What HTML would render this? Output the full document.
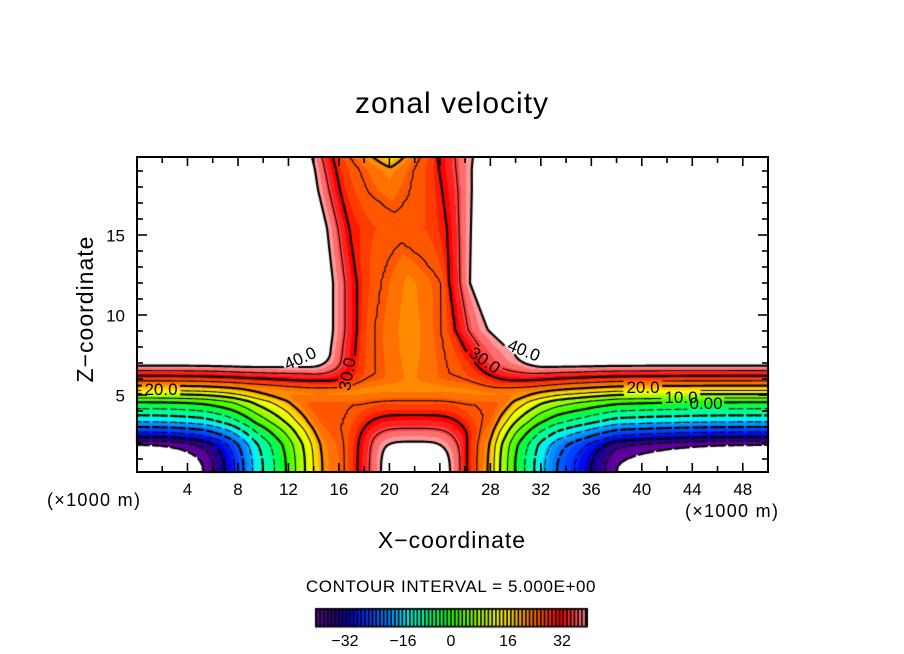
<!DOCTYPE html>
<html><head><meta charset="utf-8"><title>zonal velocity</title>
<style>
html,body{margin:0;padding:0;background:#fff;}
body{width:904px;height:654px;position:relative;overflow:hidden;}
#c{position:absolute;left:0;top:0;}
#s{position:absolute;left:0;top:0;}
text{font-family:"Liberation Sans",sans-serif;fill:#000;}
</style></head><body>
<canvas id="c" width="904" height="654"></canvas>
<svg id="s" width="904" height="654" xmlns="http://www.w3.org/2000/svg">
<g id="ticks" stroke="#000" stroke-width="1.6"></g>
<rect x="137" y="157" width="631" height="315" fill="none" stroke="#000" stroke-width="2"/>
<text x="452" y="113" font-size="30" text-anchor="middle" letter-spacing="1">zonal velocity</text>
<text x="452" y="548" font-size="23" text-anchor="middle" letter-spacing="1">X−coordinate</text>
<text transform="translate(93,309) rotate(-90)" font-size="23" text-anchor="middle" letter-spacing="1">Z−coordinate</text>
<g font-size="17" text-anchor="middle">
<text x="187.5" y="495">4</text>
<text x="238" y="495">8</text>
<text x="288.4" y="495">12</text>
<text x="338.9" y="495">16</text>
<text x="389.4" y="495">20</text>
<text x="439.9" y="495">24</text>
<text x="490.4" y="495">28</text>
<text x="540.8" y="495">32</text>
<text x="591.3" y="495">36</text>
<text x="641.8" y="495">40</text>
<text x="692.3" y="495">44</text>
<text x="742.8" y="495">48</text>
</g>
<g font-size="17" text-anchor="end">
<text x="125" y="401.5">5</text>
<text x="125" y="321.5">10</text>
<text x="125" y="241.5">15</text>
</g>
<text x="47" y="506" font-size="18" letter-spacing="1.3">(×1000 m)</text>
<text x="685" y="517" font-size="18" letter-spacing="1.3">(×1000 m)</text>
<text x="451" y="592" font-size="17" text-anchor="middle" letter-spacing="0.6">CONTOUR INTERVAL = 5.000E+00</text>
<g font-size="16" text-anchor="middle">
<text x="345" y="646">−32</text>
<text x="403" y="646">−16</text>
<text x="451" y="646">0</text>
<text x="508" y="646">16</text>
<text x="562" y="646">32</text>
</g>
<g font-size="17" text-anchor="middle">
<text transform="translate(300,358) rotate(-24)" dy="6">40.0</text>
<text transform="translate(347,374) rotate(-80)" dy="6">30.0</text>
<text transform="translate(161,389)" dy="6">20.0</text>
<text transform="translate(485,360) rotate(35)" dy="6">30.0</text>
<text transform="translate(524,350) rotate(22)" dy="6">40.0</text>
<text transform="translate(643,387)" dy="6">20.0</text>
<text transform="translate(681,397)" dy="6">10.0</text>
<text transform="translate(706,403)" dy="6">0.00</text>
</g>
</svg>
<script>
(function(){
var tg=document.getElementById('ticks'),ns='http://www.w3.org/2000/svg';
function ln(x1,y1,x2,y2){var l=document.createElementNS(ns,'line');l.setAttribute('x1',x1);l.setAttribute('y1',y1);l.setAttribute('x2',x2);l.setAttribute('y2',y2);tg.appendChild(l);}
for(var k=1;k<=24;k++){var x=137+k*25.24,len=(k%2==0)?9:6;ln(x,472,x,472-len);ln(x,157,x,157+len);}
for(var n=1;n<=19;n++){var y=475-16*n,l2=(n%5==0)?10:6;ln(137,y,137+l2,y);ln(768,y,768-l2,y);}

function pw(t,x){var n=t.length,s;
 if(x<=t[0][0]){s=(t[1][1]-t[0][1])/(t[1][0]-t[0][0]);return t[0][1]+(x-t[0][0])*s;}
 for(var i=1;i<n;i++){if(x<=t[i][0]){var u=(x-t[i-1][0])/(t[i][0]-t[i-1][0]);return t[i-1][1]+u*(t[i][1]-t[i-1][1]);}}
 s=(t[n-1][1]-t[n-2][1])/(t[n-1][0]-t[n-2][0]);return t[n-1][1]+(x-t[n-1][0])*s;}
var FxL=[[0,0],[67,20],[95,33],[120,47],[150,60],[169,70],[186,80],[214,90],[242,100],[400,180]];
var FxR=[[0,0],[151,20],[163,25],[183,32],[211,40],[228,47],[253,60],[268,70],[280,80],[300,90],[310,100],[500,200]];
var Bz=[[0,0],[27,20],[35,30],[50,45],[70,60],[78,70],[85,80],[94,90],[105,100],[200,200]];
var P=2.5;
function sup(a,b){a=Math.max(a,0);b=Math.max(b,0);return Math.pow(Math.pow(a,P)+Math.pow(b,P),1/P);}
function V(c){return [45,40,35,30,c[0],c[1],c[2],30,35,40,45];}
var rows=[
 {y:157,x:[302,312,322,333,350,391,420,437,455,473,483],v:V([25,16,25])},
 {y:170,x:[305,315,325,336,360,390,413,439,456,472,482],v:V([25,21,25])},
 {y:190,x:[308,318,329,340,368,389,409,442,458,472,482],v:V([25,23,25])},
 {y:228,x:[317,327,338,349,375,398,425,447,459,471,481],v:V([27.5,26.5,27.5])},
 {y:283,x:[323,333,345,357,382,410,440,449,460,470,480],v:V([25,21.2,25])},
 {y:330,x:[323,333,345,357,375,410,440,455,468,488,500],v:V([25,20.4,25])},
 {y:355,x:[320,330,342,355,376,410,444,468,485,515,530],v:V([25,20.8,25])},
 {y:380,x:[316,326,338,350,376,410,450,490,505,525,540],v:V([25,21.5,25])},
 {y:480,x:[316,326,338,350,376,410,450,490,505,525,540],v:V([25,21.5,25])}];
function ccol(px,py){
 var r0,r1,t=0;
 if(py<=rows[0].y){r0=r1=rows[0];}
 else if(py>=rows[rows.length-1].y){r0=r1=rows[rows.length-1];}
 else{for(var i=1;i<rows.length;i++){if(py<=rows[i].y){r0=rows[i-1];r1=rows[i];t=(py-r0.y)/(r1.y-r0.y);break;}}}
 var xs=[],vs=[];
 for(var k=0;k<11;k++){xs[k]=r0.x[k]+(r1.x[k]-r0.x[k])*t;vs[k]=r0.v[k]+(r1.v[k]-r0.v[k])*t;}
 var v;
 if(px<=xs[0])v=vs[0]+(xs[0]-px)*0.5;
 else if(px>=xs[10])v=vs[10]+(px-xs[10])*0.5;
 else{for(k=1;k<11;k++){if(px<=xs[k]){var u=(px-xs[k-1])/(xs[k]-xs[k-1]);v=vs[k-1]+u*(vs[k]-vs[k-1]);break;}}}
 if(v>25&&v<30){v=25+5*Math.pow((v-25)/5,2.2);}
 return v;}
function smin(a,b,k){var h=Math.max(k-Math.abs(a-b),0)/k;return Math.min(a,b)-h*h*k*0.25;}
function smax(a,b,k){return -smin(-a,-b,k);}
function field(px,py){
 var h=472-py;
 var b=pw(Bz,h);
 var vL=sup(pw(FxL,px-136),b)-60;
 var vR=sup(pw(FxR,768-px),b)-60;
 var lobes=Math.min(vL,vR);
 var sl=1-0.28*Math.exp(-Math.pow((px-320)/70,2))-0.28*Math.exp(-Math.pow((px-500)/80,2));
 var eh=40+(h-105)*sl;
 var up=smin(eh,ccol(px,py),10);
 var dx=Math.abs(px-414)/58,dy=Math.abs(py-487)/72;
 var tt=Math.pow(Math.pow(dx,4)+Math.pow(dy,4),0.25);
 var D=30+27*(1-tt);
 var M=h<=67?25:25-(h-67)*0.3;
 var X=smax(smax(up,D,4),M,3);
 return smin(lobes,X,6);}

var stops=[[-40,100,0,160],[-37,90,0,150],[-34,50,0,130],[-31,20,0,150],[-28,0,0,220],[-25,0,40,255],[-21,0,90,255],[-18,0,130,255],[-15,0,185,255],[-13,0,240,255],[-11,0,255,200],[-7,0,255,150],[-3,0,255,80],[0,40,255,0],[4,100,255,0],[8,170,255,0],[12,230,255,0],[14,255,255,0],[16.5,255,220,0],[19,255,180,0],[21,255,140,0],[24,255,100,0],[27,255,60,0],[29,255,25,0],[31,255,0,0],[33.5,255,40,40],[36,255,90,90],[38.5,255,140,140],[40,255,175,175]];
function cmap(v){
 if(v<=stops[0][0])return [stops[0][1],stops[0][2],stops[0][3]];
 for(var i=1;i<stops.length;i++){if(v<=stops[i][0]){var a=stops[i-1],b=stops[i],t=(v-a[0])/(b[0]-a[0]);return [a[1]+t*(b[1]-a[1]),a[2]+t*(b[2]-a[2]),a[3]+t*(b[3]-a[3])];}}
 var s=stops[stops.length-1];return [s[1],s[2],s[3]];}

var cv=document.getElementById('c'),ctx=cv.getContext('2d');
ctx.fillStyle='#fff';ctx.fillRect(0,0,904,654);
var X0=136,Y0=157,W=633,H=316;
var img=ctx.createImageData(W,H),d=img.data;
for(var j=0;j<H;j++){for(var i=0;i<W;i++){
 var v=field(X0+i+0.5,Y0+j+0.5),p=(j*W+i)*4,c;
 if(v>40||v<-40){c=[255,255,255];}
 else{var q=(Math.floor(v/2)+0.5)*2;c=cmap(q);}
 d[p]=c[0];d[p+1]=c[1];d[p+2]=c[2];d[p+3]=255;}}
ctx.putImageData(img,X0,Y0);

var labels=[[300,358,-24],[347,374,-80],[161,389,0],[485,360,35],[524,350,22],[643,387,0],[681,397,0],[706,403,0]];
function inLabel(x,y){
 for(var i=0;i<labels.length;i++){var L=labels[i],a=-L[2]*Math.PI/180,dx=x-L[0],dy=y-L[1];
  var u=dx*Math.cos(a)-dy*Math.sin(a),w=dx*Math.sin(a)+dy*Math.cos(a);
  if(Math.abs(u)<20&&Math.abs(w)<8)return true;}
 return false;}
var g=2,NX=316,NY=158,G=[];
for(var jj=0;jj<=NY;jj++){G[jj]=[];for(var ii=0;ii<=NX;ii++){G[jj][ii]=field(137+g*ii,157+g*jj);}}
var levels=[];for(var Lv=-40;Lv<=40;Lv+=5)levels.push(Lv);
var tab={1:[[3,2]],2:[[2,1]],3:[[3,1]],4:[[0,1]],5:[[0,3],[2,1]],6:[[0,2]],7:[[0,3]],8:[[0,3]],9:[[0,2]],10:[[0,1],[3,2]],11:[[0,1]],12:[[3,1]],13:[[2,1]],14:[[3,2]]};
var paths={};
levels.forEach(function(L){paths[L]=[];});
for(jj=0;jj<NY;jj++){for(ii=0;ii<NX;ii++){
 var v0=G[jj][ii],v1=G[jj][ii+1],v2=G[jj+1][ii+1],v3=G[jj+1][ii];
 var x0=137+g*ii,y0=157+g*jj;
 for(var li=0;li<levels.length;li++){var L=levels[li];
  var idx=(v0>L?8:0)|(v1>L?4:0)|(v2>L?2:0)|(v3>L?1:0);
  if(idx===0||idx===15)continue;
  var segs=tab[idx];
  for(var s=0;s<segs.length;s++){
   var pts=segs[s].map(function(e){var t;
    if(e===0){t=(L-v0)/(v1-v0);return [x0+g*t,y0];}
    if(e===1){t=(L-v1)/(v2-v1);return [x0+g,y0+g*t];}
    if(e===2){t=(L-v3)/(v2-v3);return [x0+g*t,y0+g];}
    t=(L-v0)/(v3-v0);return [x0,y0+g*t];});
   paths[L].push(pts);}}}}
ctx.save();ctx.beginPath();ctx.rect(137,157,631,315);ctx.clip();
ctx.strokeStyle='#000';ctx.lineCap='round';
levels.forEach(function(L){
 var thick=(L%10===0),neg=L<0;
 ctx.lineWidth=thick?2.2:1.1;
 ctx.beginPath();
 paths[L].forEach(function(p){
  var mx=(p[0][0]+p[1][0])/2,my=(p[0][1]+p[1][1])/2;
  if(inLabel(mx,my))return;
  if(neg){var par=Math.abs(p[1][0]-p[0][0])>Math.abs(p[1][1]-p[0][1])?mx:my;if(((par%9)+9)%9>5.5)return;}
  ctx.moveTo(p[0][0],p[0][1]);ctx.lineTo(p[1][0],p[1][1]);});
 ctx.stroke();});
ctx.restore();

ctx.fillStyle='#000';ctx.fillRect(315,608,273,19.5);
for(var si=0;si<72;si++){var vv=-38+(si+0.5)*76/72,cc=cmap(vv);
 ctx.fillStyle='rgb('+Math.round(cc[0])+','+Math.round(cc[1])+','+Math.round(cc[2])+')';
 ctx.fillRect(317.2+si*3.74,609.8,2.1,16);}
})();
</script>
</body></html>
